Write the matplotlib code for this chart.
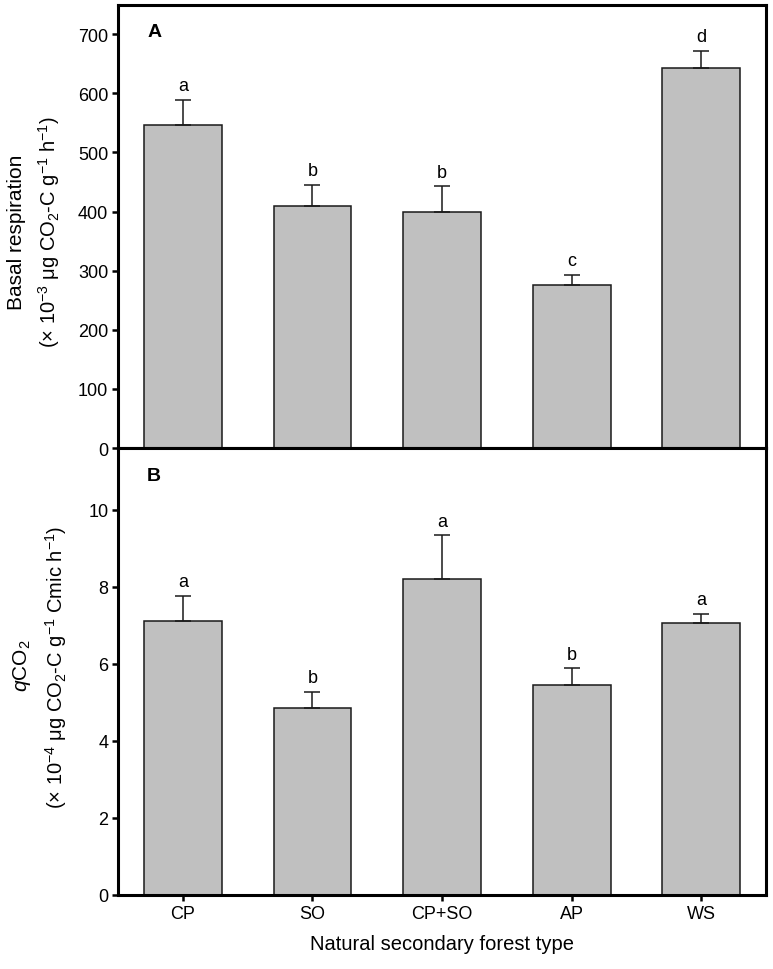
import matplotlib as mpl

mpl.use("Agg")

import matplotlib.pyplot as plt
import numpy as np

plt.rcParams["font.family"] = ["Liberation Sans", "DejaVu Sans"]
plt.rcParams["mathtext.fontset"] = "custom"
plt.rcParams["mathtext.rm"] = "Liberation Sans"
plt.rcParams["mathtext.it"] = "Liberation Sans:italic"

forest_types = ["CP", "SO", "CP+SO", "AP", "WS"]

basal_mean = [547, 410, 400, 275, 643]
basal_err = [42, 35, 43, 18, 29]
basal_letters = ["a", "b", "b", "c", "d"]

qco2_mean = [7.11, 4.85, 8.20, 5.44, 7.05]
qco2_err = [0.66, 0.42, 1.14, 0.44, 0.25]
qco2_letters = ["a", "b", "a", "b", "a"]


def draw_panel(ax, means, errs, letters, ylim, yticks, tag):
    x = np.arange(len(forest_types))
    ax.bar(x, means, width=0.6, color="#c0c0c0", edgecolor="#1a1a1a", lw=1.1, zorder=2)
    ax.errorbar(
        x, means, yerr=[np.zeros(len(errs)), errs], fmt="none",
        ecolor="#1a1a1a", elinewidth=1.1, capsize=6, capthick=1.1, zorder=3,
    )
    for xi, m, e, lab in zip(x, means, errs, letters):
        ax.annotate(lab, (xi, m + e), xytext=(0, 4), textcoords="offset points",
                    ha="center", va="bottom", fontsize=13)
    ax.set_xlim(-0.5, 4.5)
    ax.set_ylim(*ylim)
    ax.set_yticks(yticks)
    ax.set_xticks(x)
    for sp in ax.spines.values():
        sp.set_linewidth(2.2)
    ax.tick_params(axis="both", direction="out", length=4.5, width=1.8, labelsize=13, pad=2.5)
    ax.text(0.045, 0.958, tag, transform=ax.transAxes, fontsize=14, fontweight="bold",
            ha="left", va="top")


fig = plt.figure(figsize=(7.73, 9.70), dpi=100)
ax1 = fig.add_axes([0.1527, 0.5371, 0.8383, 0.4570])
ax2 = fig.add_axes([0.1527, 0.0763, 0.8383, 0.4608])

draw_panel(ax1, basal_mean, basal_err, basal_letters, (0, 750), range(0, 701, 100), "A")
ax1.set_xticklabels([])

draw_panel(ax2, qco2_mean, qco2_err, qco2_letters, (0, 11.6), range(0, 11, 2), "B")
ax2.set_xticklabels(forest_types)
ax2.set_xlabel("Natural secondary forest type", fontsize=14.5, labelpad=9)

fig.text(0.021, 0.7605, "Basal respiration", rotation=90, ha="center", va="center", fontsize=15)
fig.text(0.063, 0.7605, r"($\times$ 10$^{-3}$ μg CO$_2$-C g$^{-1}$ h$^{-1}$)",
         rotation=90, ha="center", va="center", fontsize=14.5)
fig.text(0.029, 0.314, r"$q$CO$_2$", rotation=90, ha="center", va="center", fontsize=15)
fig.text(0.073, 0.312, r"($\times$ 10$^{-4}$ μg CO$_2$-C g$^{-1}$ Cmic h$^{-1}$)",
         rotation=90, ha="center", va="center", fontsize=14.5)

fig.savefig("out.png", dpi=100)
